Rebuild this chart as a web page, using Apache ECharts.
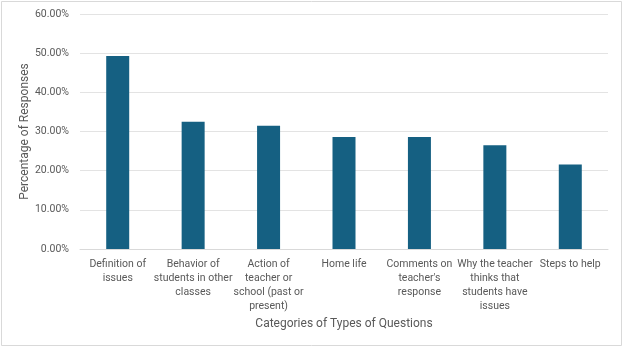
<!DOCTYPE html>
<html><head><meta charset="utf-8">
<script src="https://cdn.jsdelivr.net/npm/echarts@6/dist/echarts.min.js"></script>
<style>html,body{margin:0;padding:0;background:#fff}#c{width:624px;height:348px}</style>
</head><body><div id="c"></div>
<script>
const categories = ["Definition of\nissues","Behavior of\nstudents in other\nclasses","Action of\nteacher or\nschool (past or\npresent)","Home life","Comments on\nteacher's\nresponse","Why the teacher\nthinks that\nstudents have\nissues","Steps to help"];
const values = [49.3, 32.5, 31.5, 28.6, 28.6, 26.5, 21.6];
const yTicks = [0, 10, 20, 30, 40, 50, 60];
const xTitle = "Categories of Types of Questions";
const yTitle = "Percentage of Responses";

const chart = echarts.init(document.getElementById('c'));
const txt = '#595959';
const ff = 'Roboto, "Liberation Sans", sans-serif';
chart.setOption({
  animation: false,
  backgroundColor: '#fff',
  graphic: [{type:'rect', shape:{x:1.5,y:1.5,width:620,height:344}, style:{fill:'none', stroke:'#d9d9d9', lineWidth:1}, silent:true}],
  grid: {left: 80, right: 16, top: 14, bottom: 99},
  xAxis: {
    type: 'category', data: categories,
    axisLine: {lineStyle: {color: '#d9d9d9'}},
    axisTick: {show: false},
    axisLabel: {color: txt, fontFamily: ff, fontSize: 10.5, lineHeight: 14, margin: 8, interval: 0},
    name: xTitle, nameLocation: 'middle', nameGap: 69, nameMoveOverlap: false,
    nameTextStyle: {color: txt, fontFamily: ff, fontSize: 12}
  },
  yAxis: {
    type: 'value', min: yTicks[0], max: yTicks[yTicks.length-1], interval: 10,
    axisLine: {show: false}, axisTick: {show: false},
    splitLine: {lineStyle: {color: '#e3e3e3'}},
    axisLabel: {color: txt, fontFamily: ff, fontSize: 10.5, margin: 11, formatter: v => v.toFixed(2) + '%'},
    name: yTitle, nameLocation: 'middle', nameGap: 49, nameMoveOverlap: false,
    nameTextStyle: {color: txt, fontFamily: ff, fontSize: 12}
  },
  series: [{type: 'bar', data: values, barWidth: 23, itemStyle: {color: '#156082'}}]
});
</script></body></html>
